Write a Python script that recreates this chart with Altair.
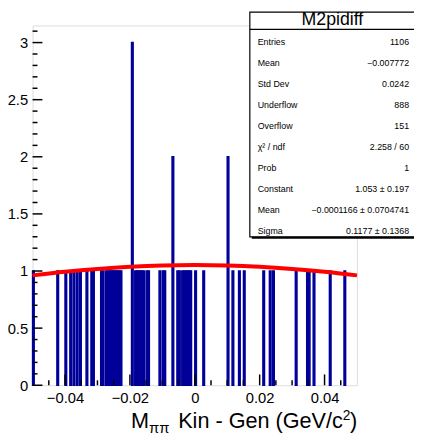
import altair as alt
import pandas as pd

# ---------------- data ----------------
x_min, bin_w = -0.05, 0.0005          # 200 bins over [-0.05, 0.05]
bin_index = [0, 15, 20, 23, 25, 27, 29, 33, 36, 37, 42, 43,
             45, 46, 47, 48, 49, 50, 51, 52, 53, 54,
             61, 63, 64, 65, 66, 67, 68, 70, 71, 78, 80, 81,
             86, 89, 90, 92, 93, 94, 95, 96, 97, 100, 105,
             120, 123, 127, 130, 142, 146, 148, 162, 169, 170,
             173, 183, 192]
bin_count = [1, 1, 1, 1, 1, 1, 1, 1, 1, 1, 1, 1,
             1, 1, 1, 1, 1, 1, 1, 1, 1, 1,
             3, 1, 1, 1, 1, 1, 1, 1, 1, 1, 1, 1,
             2, 1, 1, 1, 1, 1, 1, 1, 1, 1, 1,
             2, 1, 1, 1, 1, 1, 1, 1, 1, 1,
             1, 1, 1]

fit_x = [-0.05, -0.04, -0.03, -0.02, -0.01, 0.0, 0.01, 0.02, 0.03, 0.04, 0.05]
fit_y = [0.962, 0.993, 1.018, 1.037, 1.049, 1.053, 1.049, 1.037, 1.018, 0.993, 0.962]

x_major_ticks = [-0.04, -0.02, 0.0, 0.02, 0.04]
x_minor_ticks = [-0.045, -0.035, -0.03, -0.025, -0.015, -0.01, -0.005,
                 0.005, 0.01, 0.015, 0.025, 0.03, 0.035, 0.045]
y_major_ticks = [0, 0.5, 1, 1.5, 2, 2.5, 3]
y_minor_ticks = [0.1, 0.2, 0.3, 0.4, 0.6, 0.7, 0.8, 0.9, 1.1, 1.2, 1.3, 1.4,
                 1.6, 1.7, 1.8, 1.9, 2.1, 2.2, 2.3, 2.4, 2.6, 2.7, 2.8, 2.9, 3.1]

stat_title = "M2pidiff"
stat_labels = ["Entries", "Mean", "Std Dev", "Underflow", "Overflow",
               "χ² / ndf", "Prob", "Constant", "Mean", "Sigma"]
stat_values = ["1106", "\u22120.007772", "0.0242", "888", "151",
               "2.258 / 60", "1", "1.053 ± 0.197",
               "\u22120.0001166 ± 0.0704741", "0.1177 ± 0.1368"]

# ---------------- layout ----------------
W, H = 330, 366
FONT = "Liberation Sans"
BLUE = "#000099"
RED = "#ff0000"

xscale = alt.Scale(domain=[-0.05, 0.05], nice=False, zero=False)
yscale = alt.Scale(domain=[0, 3.15], nice=False, zero=False)
xaxis = alt.Axis(values=x_major_ticks, title=None, ticks=False, domain=False,
                 grid=False, labelFontSize=15, labelPadding=6, labelFont=FONT,
                 labelColor="black", format="~g")
yaxis = alt.Axis(values=y_major_ticks, title=None, ticks=False, domain=False,
                 grid=False, labelFontSize=15, labelPadding=5, labelFont=FONT,
                 labelColor="black", format="~g")

hist = pd.DataFrame({"i": bin_index, "count": bin_count})
hist["lo"] = x_min + hist["i"] * bin_w
hist["hi"] = hist["lo"] + bin_w

bars = alt.Chart(hist).mark_rect(color=BLUE, stroke=BLUE, strokeWidth=1.5).encode(
    x=alt.X("lo:Q", scale=xscale, axis=xaxis),
    x2="hi:Q",
    y=alt.Y("count:Q", scale=yscale, axis=yaxis),
    y2=alt.datum(0),
)

fit = alt.Chart(pd.DataFrame({"x": fit_x, "y": fit_y})).mark_line(
    color=RED, strokeWidth=4, interpolate="monotone").encode(
    x=alt.X("x:Q", scale=xscale, axis=xaxis),
    y=alt.Y("y:Q", scale=yscale, axis=yaxis),
)

def xticks(vals, length):
    return alt.Chart(pd.DataFrame({"v": vals})).mark_rule(color="black", strokeWidth=1.5).encode(
        x=alt.X("v:Q", scale=xscale, axis=xaxis),
        y=alt.value(H), y2=alt.value(H - length))

def yticks(vals, length):
    return alt.Chart(pd.DataFrame({"v": vals})).mark_rule(color="black", strokeWidth=1.5).encode(
        y=alt.Y("v:Q", scale=yscale, axis=yaxis),
        x=alt.value(0), x2=alt.value(length))

one = pd.DataFrame({"k": [0]})

# stats box geometry (plot coordinates; plot origin is at page (33, 22))
bx0, bx1, by0, by1, hy = 221, 390, -13.5, 215, 4
shadow = alt.Chart(one).mark_rect(color="black").encode(
    x=alt.value(bx0 + 2), x2=alt.value(bx1 + 2), y=alt.value(by0 + 2), y2=alt.value(by1 + 2))
box = alt.Chart(one).mark_rect(fill="white", stroke="black", strokeWidth=1.2).encode(
    x=alt.value(bx0), x2=alt.value(bx1), y=alt.value(by0), y2=alt.value(by1))
hline = alt.Chart(one).mark_rule(color="black", strokeWidth=1.2).encode(
    x=alt.value(bx0), x2=alt.value(bx1), y=alt.value(hy))
htext = alt.Chart(one).mark_text(text=stat_title, font=FONT, fontSize=18, baseline="middle",
                                 align="center", color="black").encode(
    x=alt.value(305), y=alt.value(-5))

rows = pd.DataFrame({"label": stat_labels, "value": stat_values})
rows["py"] = [16.5 + 21.4 * k for k in range(len(rows))]
lab = alt.Chart(rows).mark_text(font=FONT, fontSize=9, align="left", baseline="middle",
                                color="black").encode(
    x=alt.value(229), y=alt.Y("py:Q", scale=None), text="label:N")
val = alt.Chart(rows).mark_text(font=FONT, fontSize=9, align="right", baseline="middle",
                                color="black").encode(
    x=alt.value(383), y=alt.Y("py:Q", scale=None), text="value:N")

def txt(s, x, y, size, align="left"):
    return alt.Chart(one).mark_text(text=s, font=FONT, fontSize=size, align=align,
                                    baseline="alphabetic", color="black").encode(
        x=alt.value(x), y=alt.value(y))

base_y = 410
title_parts = [
    txt("M", 100, base_y, 22),
    txt("ππ", 118.5, base_y + 5, 15),
    txt("Kin - Gen (GeV/c", 315.5, base_y, 22, align="right"),
    txt("2", 315.5, base_y - 9, 14),
    txt(")", 323, base_y, 22),
]

chart = alt.layer(
    bars, fit,
    xticks(x_major_ticks, 11), xticks(x_minor_ticks, 5),
    yticks(y_major_ticks, 10), yticks(y_minor_ticks, 5),
    shadow, box, hline, htext, lab, val,
    *title_parts,
).properties(
    width=W, height=H,
    autosize="none",
    padding={"left": 25, "top": 14, "right": 58, "bottom": 54},
).configure_view(stroke="black", strokeWidth=1.5).configure(background="white")

chart.save("out.html", embed_options={"renderer": "svg", "actions": False})
